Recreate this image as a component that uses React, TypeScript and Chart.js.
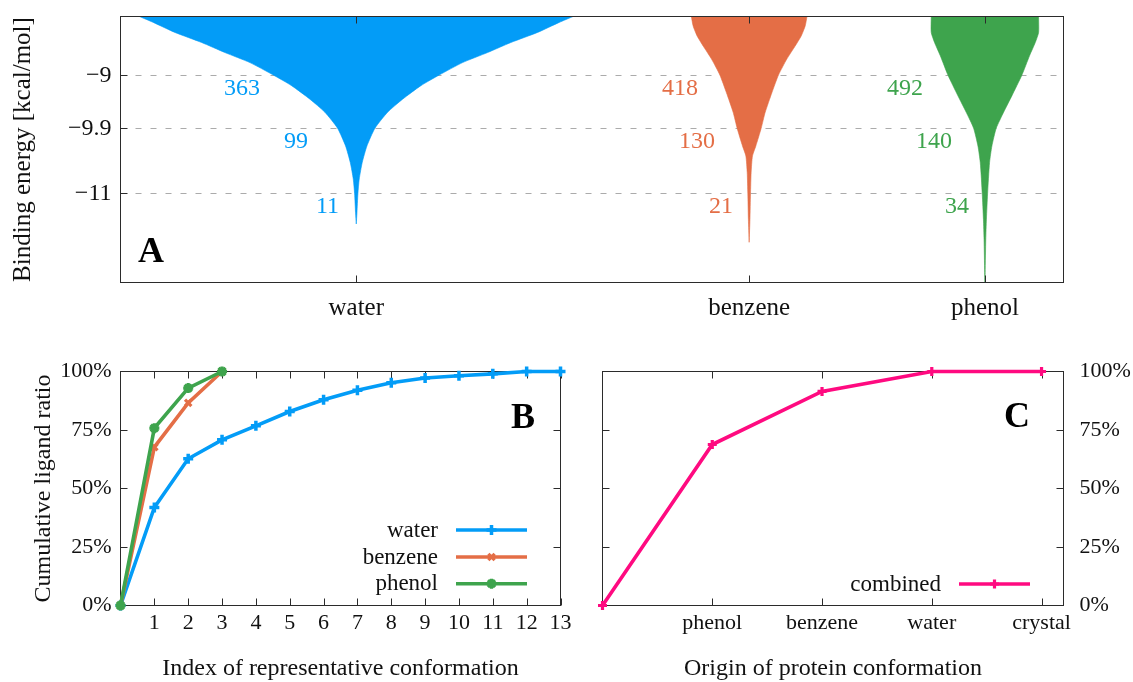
import React, { useEffect, useRef } from 'react';
import { Chart, registerables } from 'chart.js';
import { drawPoint } from 'chart.js/helpers';

Chart.register(...registerables);

const SERIF = "'Liberation Serif', 'Times New Roman', serif";
Chart.defaults.font.family = SERIF;
Chart.defaults.color = '#111';

// ---------- Panel A: binding-energy distributions (violins) ----------
const VIOLIN_CATEGORIES = ['water', 'benzene', 'phenol'];
const VIOLIN_POSITIONS = [3, 8, 11];
const ENERGY_TICKS = [-11, -9.9, -9];
const ENERGY_THRESHOLDS = [-9, -9.9, -11];

const WATER_ENERGY = [-8.0, -8.1, -8.27, -8.44, -8.61, -8.78, -8.99, -9.17, -9.4, -9.62, -9.89, -10.19, -10.47, -10.75, -11.0, -11.32, -11.51];
const WATER_HALF_WIDTH = [2.76, 2.583, 2.307, 1.968, 1.671, 1.353, 1.056, 0.823, 0.589, 0.399, 0.238, 0.136, 0.076, 0.038, 0.021, 0.009, 0];

const BENZENE_ENERGY = [-8.0, -8.16, -8.33, -8.5, -8.72, -8.99, -9.29, -9.62, -9.89, -10.19, -10.36, -10.64, -11.0, -11.43, -11.82];
const BENZENE_HALF_WIDTH = [0.736, 0.713, 0.662, 0.585, 0.479, 0.373, 0.289, 0.204, 0.153, 0.085, 0.042, 0.025, 0.017, 0.01, 0];

const PHENOL_ENERGY = [-8.0, -8.27, -8.44, -8.66, -8.99, -9.34, -9.62, -9.89, -10.19, -10.47, -11.0, -11.43, -11.77, -12.33, -12.5];
const PHENOL_HALF_WIDTH = [0.683, 0.683, 0.641, 0.569, 0.471, 0.344, 0.238, 0.144, 0.089, 0.059, 0.034, 0.019, 0.011, 0.003, 0];

// ligand counts beyond each energy threshold
const WATER_COUNTS = [363, 99, 11];
const BENZENE_COUNTS = [418, 130, 21];
const PHENOL_COUNTS = [492, 140, 34];

// ---------- Panel B: cumulative ligand ratio per representative ----------
const CONFORMATION_INDEX = [0, 1, 2, 3, 4, 5, 6, 7, 8, 9, 10, 11, 12, 13];
const WATER_CUMULATIVE = [0, 41.9, 62.7, 70.8, 76.8, 82.9, 87.9, 92.0, 95.2, 97.2, 98.2, 99.0, 100, 100];
const BENZENE_CUMULATIVE = [0, 67.7, 86.6, 100];
const PHENOL_CUMULATIVE = [0, 75.8, 92.9, 100];
const INDEX_TICKS = [1, 2, 3, 4, 5, 6, 7, 8, 9, 10, 11, 12, 13];
const PERCENT_TICKS = [0, 25, 50, 75, 100];

// ---------- Panel C: cumulative ratio by protein conformation origin ----------
const ORIGIN_LABELS = ['phenol', 'benzene', 'water', 'crystal'];
const ORIGIN_STEPS = [0, 1, 2, 3, 4];
const COMBINED_CUMULATIVE = [0, 68.8, 91.5, 100, 100];

// ---------- styling / layout ----------
const COLORS = { water: '#039cf7', benzene: '#e46e46', phenol: '#3ea44d', combined: '#ff0a80' };
const FRAME = '#2b2b2b';
const GRID = '#ababab';
// horizontal anchor of the count labels, per violin and threshold (axis units)
const COUNT_LABEL_X = [
  [1.775, 2.386, 2.781],
  [7.349, 7.566, 7.795],
  [10.212, 10.581, 10.797],
];

type Marker = { pointStyle: string; radius: number; borderWidth: number };
const MARKERS: Record<string, Marker> = {
  water: { pointStyle: 'cross', radius: 5, borderWidth: 3.5 },
  benzene: { pointStyle: 'crossRot', radius: 4.5, borderWidth: 3.2 },
  phenol: { pointStyle: 'star', radius: 5, borderWidth: 3.2 },
  combined: { pointStyle: 'cross', radius: 4.5, borderWidth: 3.2 },
};

type LegendEntry = { label: string; color: string; marker: Marker };
type Decor = {
  frameOnTop: boolean;
  xTicks: number[];
  yTicks: number[];
  leftTicks: boolean;
  rightTicks: boolean;
  tickLen: number;
  dashed?: number[];
  letter: { text: string; pos: (a: any) => { x: number; y: number }; align: CanvasTextAlign };
  legend?: LegendEntry[];
  legendRows?: number[];
  counts?: { values: number[]; xs: number[]; color: string }[];
};

function decorations(cfg: Decor) {
  const frame = (chart: any) => {
    const { ctx, chartArea: a } = chart;
    const xs = chart.scales.x;
    const ys = chart.scales.y;
    ctx.save();
    ctx.strokeStyle = FRAME;
    ctx.lineWidth = 1;
    ctx.setLineDash([]);
    ctx.strokeRect(a.left, a.top, a.right - a.left, a.bottom - a.top);
    ctx.beginPath();
    cfg.xTicks.forEach((v) => {
      const p = Math.round(xs.getPixelForValue(v)) + 0.5;
      ctx.moveTo(p, a.bottom);
      ctx.lineTo(p, a.bottom - cfg.tickLen);
      ctx.moveTo(p, a.top);
      ctx.lineTo(p, a.top + cfg.tickLen);
    });
    cfg.yTicks.forEach((v) => {
      const p = Math.floor(ys.getPixelForValue(v)) + 0.5;
      if (cfg.leftTicks) {
        ctx.moveTo(a.left, p);
        ctx.lineTo(a.left + cfg.tickLen, p);
      }
      if (cfg.rightTicks) {
        ctx.moveTo(a.right, p);
        ctx.lineTo(a.right - cfg.tickLen, p);
      }
    });
    ctx.stroke();
    ctx.restore();
  };

  return {
    id: 'decorations',
    beforeDatasetsDraw(chart: any) {
      const { ctx, chartArea: a } = chart;
      if (cfg.dashed) {
        ctx.save();
        ctx.strokeStyle = GRID;
        ctx.lineWidth = 1;
        ctx.setLineDash([6, 9]);
        ctx.beginPath();
        cfg.dashed.forEach((v) => {
          const p = Math.floor(chart.scales.y.getPixelForValue(v)) + 0.5;
          ctx.moveTo(a.left, p);
          ctx.lineTo(a.right, p);
        });
        ctx.stroke();
        ctx.restore();
      }
      if (!cfg.frameOnTop) frame(chart);
    },
    afterDatasetsDraw(chart: any) {
      const { ctx, chartArea: a } = chart;
      if (cfg.frameOnTop) frame(chart);
      ctx.save();
      // count labels next to each violin
      if (cfg.counts) {
        ctx.font = `24px ${SERIF}`;
        ctx.textAlign = 'right';
        ctx.textBaseline = 'alphabetic';
        cfg.counts.forEach((c) => {
          ctx.fillStyle = c.color;
          c.values.forEach((n, j) => {
            const x = chart.scales.x.getPixelForValue(c.xs[j]);
            const y = Math.floor(chart.scales.y.getPixelForValue(ENERGY_THRESHOLDS[j])) + 19.5;
            ctx.fillText(String(n), x, y);
          });
        });
      }
      // panel letter
      const lp = cfg.letter.pos(a);
      ctx.font = `bold 36px ${SERIF}`;
      ctx.fillStyle = '#000';
      ctx.textAlign = cfg.letter.align;
      ctx.textBaseline = 'alphabetic';
      ctx.fillText(cfg.letter.text, lp.x, lp.y);
      // legend: label, then a line sample with its marker
      if (cfg.legend && cfg.legendRows) {
        cfg.legend.forEach((e, i) => {
          const y = a.bottom - cfg.legendRows![i];
          const x0 = a.right - 104.5;
          const x1 = a.right - 33.5;
          ctx.font = `23px ${SERIF}`;
          ctx.fillStyle = '#111';
          ctx.textAlign = 'right';
          ctx.fillText(e.label, a.right - 122.5, y + 6.7);
          ctx.strokeStyle = e.color;
          ctx.fillStyle = e.color;
          ctx.lineWidth = 3.5;
          ctx.beginPath();
          ctx.moveTo(x0, y);
          ctx.lineTo(x1, y);
          ctx.stroke();
          ctx.lineWidth = e.marker.borderWidth;
          drawPoint(ctx, { ...e.marker, rotation: 0 } as any, (x0 + x1) / 2, y);
        });
      }
      ctx.restore();
    },
  };
}

const fixWidth = (w: number) => (scale: any) => {
  scale.width = w;
  scale.paddingTop = 0;
  scale.paddingBottom = 0;
  scale.paddingLeft = 0;
  scale.paddingRight = 0;
};
const fixHeight = (h: number) => (scale: any) => {
  scale.height = h;
  scale.paddingTop = 0;
  scale.paddingBottom = 0;
  scale.paddingLeft = 0;
  scale.paddingRight = 0;
};
const setTicks = (values: number[]) => (scale: any) => {
  scale.ticks = values.map((value) => ({ value }));
};
const noGrid = { display: false, drawTicks: false };
const noBorder = { display: false };

function violinOutline(center: number, energy: number[], halfWidth: number[]) {
  const left = energy.map((e, i) => ({ x: center - halfWidth[i], y: e }));
  const right = energy.map((e, i) => ({ x: center + halfWidth[i], y: e })).reverse();
  return [...left, ...right];
}

const baseOptions = {
  responsive: false,
  animation: false as const,
  devicePixelRatio: 1,
  events: [] as any[],
};

function makeViolinChart(canvas: HTMLCanvasElement) {
  const violins = [
    { energy: WATER_ENERGY, width: WATER_HALF_WIDTH, color: COLORS.water, counts: WATER_COUNTS },
    { energy: BENZENE_ENERGY, width: BENZENE_HALF_WIDTH, color: COLORS.benzene, counts: BENZENE_COUNTS },
    { energy: PHENOL_ENERGY, width: PHENOL_HALF_WIDTH, color: COLORS.phenol, counts: PHENOL_COUNTS },
  ];
  const shapes = violins.map((v, i) => ({
    data: violinOutline(VIOLIN_POSITIONS[i], v.energy, v.width),
    borderColor: v.color,
    backgroundColor: v.color,
    borderWidth: 0.6,
    pointRadius: 0,
    tension: 0.2,
    fill: 'shape',
  }));
  const centres = violins.map((v, i) => ({
    data: [
      { x: VIOLIN_POSITIONS[i], y: -8.13 },
      { x: VIOLIN_POSITIONS[i], y: v.energy[v.energy.length - 1] },
    ],
    borderColor: 'rgba(255,255,255,0.38)',
    borderWidth: 1,
    pointRadius: 0,
    fill: false,
  }));
  return new Chart(canvas, {
    type: 'line',
    data: { datasets: [...shapes, ...centres] as any },
    options: {
      ...baseOptions,
      layout: { autoPadding: false, padding: { left: 0, right: 69.5, top: 16.5, bottom: 0 } },
      plugins: { legend: { display: false }, tooltip: { enabled: false } },
      scales: {
        x: {
          type: 'linear',
          min: 0,
          max: 12,
          afterBuildTicks: setTicks(VIOLIN_POSITIONS),
          afterFit: fixHeight(57.5),
          grid: noGrid,
          border: noBorder,
          ticks: {
            autoSkip: false,
            maxRotation: 0,
            padding: 11,
            font: { size: 25 },
            callback: (_v: any, i: number) => VIOLIN_CATEGORIES[i],
          },
        },
        y: {
          type: 'linear',
          min: -12.5,
          max: -8,
          afterBuildTicks: setTicks(ENERGY_TICKS),
          afterFit: fixWidth(120.5),
          grid: noGrid,
          border: noBorder,
          ticks: {
            padding: 9,
            font: { size: 24 },
            callback: (v: any) => (v < 0 ? '\u2212' : '') + String(Math.abs(v)),
          },
          title: {
            display: true,
            text: 'Binding energy [kcal/mol]',
            font: { size: 25, lineHeight: 1 },
            padding: { top: 11, bottom: 0 },
          },
        },
      },
    } as any,
    plugins: [
      decorations({
        frameOnTop: true,
        xTicks: VIOLIN_POSITIONS,
        yTicks: ENERGY_TICKS,
        leftTicks: true,
        rightTicks: false,
        tickLen: 7,
        dashed: ENERGY_TICKS,
        letter: { text: 'A', align: 'left', pos: (a) => ({ x: a.left + 17.5, y: a.bottom - 20.5 }) },
        counts: violins.map((v, i) => ({ values: v.counts, xs: COUNT_LABEL_X[i], color: v.color })),
      }),
    ],
  });
}

function seriesLine(xs: number[], ys: number[], color: string, marker: Marker, order: number) {
  return {
    data: ys.map((y, i) => ({ x: xs[i], y })),
    borderColor: color,
    backgroundColor: color,
    borderWidth: 3.6,
    pointStyle: marker.pointStyle,
    pointRadius: marker.radius,
    pointBorderWidth: marker.borderWidth,
    tension: 0,
    fill: false,
    clip: false,
    order,
  };
}

const percentAxis = (position: 'left' | 'right', width: number, padding: number, title?: string) => ({
  type: 'linear',
  position,
  min: 0,
  max: 100,
  afterBuildTicks: setTicks(PERCENT_TICKS),
  afterFit: fixWidth(width),
  grid: noGrid,
  border: noBorder,
  ticks: { padding, font: { size: 22 }, callback: (v: any) => `${v}%` },
  title: title
    ? { display: true, text: title, font: { size: 24, lineHeight: 1 }, padding: { top: 31.5, bottom: 0 } }
    : { display: false },
});

function makeCumulativeChart(canvas: HTMLCanvasElement) {
  return new Chart(canvas, {
    type: 'line',
    data: {
      datasets: [
        seriesLine(CONFORMATION_INDEX, WATER_CUMULATIVE, COLORS.water, MARKERS.water, 2),
        seriesLine(CONFORMATION_INDEX, BENZENE_CUMULATIVE, COLORS.benzene, MARKERS.benzene, 1),
        seriesLine(CONFORMATION_INDEX, PHENOL_CUMULATIVE, COLORS.phenol, MARKERS.phenol, 0),
      ] as any,
    },
    options: {
      ...baseOptions,
      layout: { autoPadding: false, padding: { left: 0, right: 19.5, top: 31.5, bottom: 0 } },
      plugins: { legend: { display: false }, tooltip: { enabled: false } },
      scales: {
        x: {
          type: 'linear',
          min: 0,
          max: 13,
          afterBuildTicks: setTicks(INDEX_TICKS),
          afterFit: fixHeight(76.5),
          grid: noGrid,
          border: noBorder,
          ticks: { autoSkip: false, maxRotation: 0, padding: 5, font: { size: 22 } },
          title: {
            display: true,
            text: 'Index of representative conformation',
            font: { size: 24, lineHeight: 1 },
            padding: { top: 0, bottom: 1 },
          },
        },
        y: percentAxis('left', 120.5, 9, 'Cumulative ligand ratio'),
      },
    } as any,
    plugins: [
      decorations({
        frameOnTop: false,
        xTicks: INDEX_TICKS,
        yTicks: [25, 50, 75],
        leftTicks: true,
        rightTicks: true,
        tickLen: 7,
        letter: { text: 'B', align: 'right', pos: (a) => ({ x: a.right - 25.5, y: a.top + 56.5 }) },
        legend: [
          { label: 'water', color: COLORS.water, marker: MARKERS.water },
          { label: 'benzene', color: COLORS.benzene, marker: MARKERS.benzene },
          { label: 'phenol', color: COLORS.phenol, marker: MARKERS.phenol },
        ],
        legendRows: [75.5, 48.5, 21.8],
      }),
    ],
  });
}

function makeOriginChart(canvas: HTMLCanvasElement) {
  return new Chart(canvas, {
    type: 'line',
    data: {
      datasets: [seriesLine(ORIGIN_STEPS, COMBINED_CUMULATIVE, COLORS.combined, MARKERS.combined, 0)] as any,
    },
    options: {
      ...baseOptions,
      layout: { autoPadding: false, padding: { left: 22.5, right: 0, top: 31.5, bottom: 0 } },
      plugins: { legend: { display: false }, tooltip: { enabled: false } },
      scales: {
        x: {
          type: 'linear',
          min: 0,
          max: 4.2,
          afterBuildTicks: setTicks([1, 2, 3, 4]),
          afterFit: fixHeight(76.5),
          grid: noGrid,
          border: noBorder,
          ticks: {
            autoSkip: false,
            maxRotation: 0,
            padding: 5,
            font: { size: 22 },
            callback: (_v: any, i: number) => ORIGIN_LABELS[i],
          },
          title: {
            display: true,
            text: 'Origin of protein conformation',
            font: { size: 24, lineHeight: 1 },
            padding: { top: 0, bottom: 1 },
          },
        },
        y: percentAxis('right', 69.5, 16),
      },
    } as any,
    plugins: [
      decorations({
        frameOnTop: false,
        xTicks: [1, 2, 3, 4],
        yTicks: [25, 50, 75],
        leftTicks: true,
        rightTicks: true,
        tickLen: 7,
        letter: { text: 'C', align: 'right', pos: (a) => ({ x: a.right - 33.5, y: a.top + 55.5 }) },
        legend: [{ label: 'combined', color: COLORS.combined, marker: MARKERS.combined }],
        legendRows: [21.5],
      }),
    ],
  });
}

export default function App() {
  const aRef = useRef<HTMLCanvasElement>(null);
  const bRef = useRef<HTMLCanvasElement>(null);
  const cRef = useRef<HTMLCanvasElement>(null);

  useEffect(() => {
    const charts = [
      makeViolinChart(aRef.current!),
      makeCumulativeChart(bRef.current!),
      makeOriginChart(cRef.current!),
    ];
    return () => charts.forEach((c) => c.destroy());
  }, []);

  return (
    <div style={{ position: 'absolute', left: 0, top: 0, width: 1133, height: 682, background: '#fff' }}>
      <canvas ref={aRef} width={1133} height={340} style={{ position: 'absolute', left: 0, top: 0 }} />
      <canvas ref={bRef} width={580} height={342} style={{ position: 'absolute', left: 0, top: 340 }} />
      <canvas ref={cRef} width={553} height={342} style={{ position: 'absolute', left: 580, top: 340 }} />
    </div>
  );
}
